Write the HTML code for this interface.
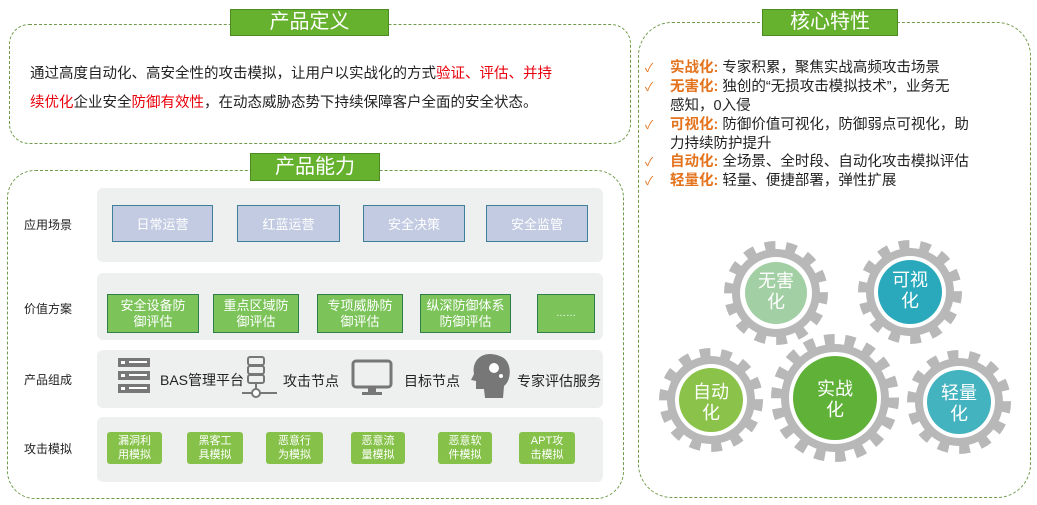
<!DOCTYPE html>
<html><head><meta charset="utf-8"><style>
body{margin:0;width:1037px;height:505px;background:#fff;position:relative;overflow:hidden;font-family:"Liberation Sans","Noto Sans CJK SC",sans-serif;color:#222}
.a{position:absolute}
.dash{position:absolute;border:1px dashed #6f9a4a;border-radius:28px}
.title{position:absolute;background:#66b22f;color:#fff;font-size:20px;text-align:center;border:1px solid #4c8a22;box-sizing:border-box}
.row{position:absolute;left:97px;width:506px;background:#eef0f0;border-radius:6px}
.lab{position:absolute;left:24px;font-size:12px;color:#222}
.b1{position:absolute;top:205px;height:37px;background:#c3cbe2;border:1px solid #3f7f9a;color:#fff;font-size:13px;display:flex;align-items:center;justify-content:center;box-sizing:border-box}
.b2{position:absolute;top:294px;height:39px;background:#7cc45a;border:1px solid #2f7d48;color:#fff;font-size:13px;line-height:16px;text-align:center;display:flex;align-items:center;justify-content:center;box-sizing:border-box}
.b4{position:absolute;top:432px;height:32px;background:#86c24a;border-radius:3px;color:#fff;font-size:11px;line-height:14px;text-align:center;display:flex;align-items:center;justify-content:center}
.red{color:#e8000b}
.li{position:absolute;left:645px;font-size:14.5px;line-height:19px;width:340px}
.li b{color:#e4731d;font-weight:bold}
.ck{color:#e4731d;display:inline-block;width:25px;font-size:12px}
</style></head><body>
<div class="dash" style="left:9px;top:24px;width:620px;height:118px;border-radius:20px"></div>
<div class="title" style="left:230px;top:9px;width:159px;height:27px;line-height:25px">产品定义</div>
<div class="a" style="left:30px;top:60px;font-size:14.5px;line-height:29px;width:600px">通过高度自动化、高安全性的攻击模拟，让用户以实战化的方式<span class="red">验证、评估、并持</span><br><span class="red">续优化</span>企业安全<span class="red">防御有效性</span>，在动态威胁态势下持续保障客户全面的安全状态。</div>

<div class="dash" style="left:7px;top:170px;width:615px;height:327px"></div>
<div class="title" style="left:250px;top:153px;width:130px;height:28px;line-height:26px">产品能力</div>

<div class="row" style="top:188px;height:74px"></div>
<div class="lab" style="top:216px">应用场景</div>
<div class="b1" style="left:112px;width:101px">日常运营</div>
<div class="b1" style="left:237px;width:103px">红蓝运营</div>
<div class="b1" style="left:363px;width:102px">安全决策</div>
<div class="b1" style="left:486px;width:102px">安全监管</div>

<div class="row" style="top:273px;height:67px"></div>
<div class="lab" style="top:300px">价值方案</div>
<div class="b2" style="left:107px;width:92px">安全设备防<br>御评估</div>
<div class="b2" style="left:213px;width:86px">重点区域防<br>御评估</div>
<div class="b2" style="left:317px;width:86px">专项威胁防<br>御评估</div>
<div class="b2" style="left:420px;width:91px">纵深防御体系<br>防御评估</div>
<div class="b2" style="left:537px;width:58px;font-size:10px">……</div>

<div class="row" style="top:350px;height:58px"></div>
<div class="lab" style="top:371px">产品组成</div>
<svg class="a" style="left:115px;top:355px" width="170" height="46">
<g fill="#777"><rect x="3" y="3" width="32" height="9"/><rect x="3" y="16" width="32" height="9"/><rect x="3" y="29" width="32" height="9"/></g>
<g fill="#fff"><rect x="6" y="6" width="4" height="3"/><rect x="14" y="6" width="18" height="2"/><rect x="6" y="19" width="4" height="3"/><rect x="14" y="19" width="18" height="2"/><rect x="6" y="32" width="4" height="3"/><rect x="14" y="32" width="18" height="2"/></g>
<g fill="none" stroke="#777" stroke-width="2"><rect x="133" y="2" width="16" height="8" rx="2"/><rect x="133" y="11" width="16" height="8" rx="2"/><rect x="133" y="20" width="16" height="8" rx="2"/><line x1="141" y1="28" x2="141" y2="34"/><line x1="127" y1="38" x2="162" y2="38"/><circle cx="141" cy="38" r="4" fill="#fff"/></g>
</svg>
<div class="a" style="left:160px;top:370px;font-size:14px">BAS管理平台</div>
<div class="a" style="left:283px;top:371px;font-size:14px">攻击节点</div>
<svg class="a" style="left:350px;top:358px" width="45" height="40"><rect x="3" y="3" width="38" height="26" rx="3" fill="none" stroke="#777" stroke-width="3"/><rect x="18" y="29" width="8" height="6" fill="#777"/><rect x="12" y="34" width="20" height="3" fill="#777"/></svg>
<div class="a" style="left:404px;top:371px;font-size:14px">目标节点</div>
<svg class="a" style="left:470px;top:352px" width="45" height="48"><path d="M20 2 C8 2 2 12 4 22 L1 28 L6 29 L6 37 L14 37 L15 46 L33 46 L34 34 C42 28 42 10 32 5 C28 3 24 2 20 2Z" fill="#777"/><circle cx="24" cy="16" r="5" fill="#fff"/><circle cx="31" cy="24" r="2" fill="#fff"/></svg>
<div class="a" style="left:517px;top:371px;font-size:14px">专家评估服务</div>

<div class="row" style="top:417px;height:65px"></div>
<div class="lab" style="top:440px">攻击模拟</div>
<div class="b4" style="left:107px;width:55px">漏洞利<br>用模拟</div>
<div class="b4" style="left:187px;width:56px">黑客工<br>具模拟</div>
<div class="b4" style="left:266px;width:57px">恶意行<br>为模拟</div>
<div class="b4" style="left:351px;width:54px">恶意流<br>量模拟</div>
<div class="b4" style="left:438px;width:54px">恶意软<br>件模拟</div>
<div class="b4" style="left:519px;width:56px">APT攻<br>击模拟</div>

<div class="dash" style="left:638px;top:22px;width:391px;height:474px;border-radius:34px"></div>
<div class="title" style="left:762px;top:9px;width:136px;height:27px;line-height:25px">核心特性</div>
<div class="li" style="top:59px"><span class="ck">✓</span><b>实战化:</b> 专家积累，聚焦实战高频攻击场景</div>
<div class="li" style="top:78px"><span class="ck">✓</span><b>无害化:</b> 独创的“无损攻击模拟技术”，业务无<br><span class="ck"></span>感知，0入侵</div>
<div class="li" style="top:116px"><span class="ck">✓</span><b>可视化:</b> 防御价值可视化，防御弱点可视化，助<br><span class="ck"></span>力持续防护提升</div>
<div class="li" style="top:153px"><span class="ck">✓</span><b>自动化:</b> 全场景、全时段、自动化攻击模拟评估</div>
<div class="li" style="top:172px"><span class="ck">✓</span><b>轻量化:</b> 轻量、便捷部署，弹性扩展</div>

<svg class="a" style="left:0;top:0" width="1037" height="505" font-family="Liberation Sans,Noto Sans CJK SC,sans-serif">
<defs>
<g id="g"><circle r="44" fill="#b8b8b8"/><circle r="47" fill="none" stroke="#b8b8b8" stroke-width="10" stroke-dasharray="10.5 10.5"/><circle r="36" fill="#fff"/></g>
<g id="G"><circle r="54" fill="#b8b8b8"/><circle r="58" fill="none" stroke="#b8b8b8" stroke-width="12" stroke-dasharray="10.1 10.1"/><circle r="46" fill="#fff"/></g>
</defs>
<use href="#g" x="776" y="293"/><circle cx="776" cy="293" r="31" fill="#a3cfa4"/>
<use href="#g" x="910" y="292"/><circle cx="910" cy="292" r="32" fill="#2aa9bc"/>
<use href="#g" x="711" y="400"/><circle cx="711" cy="400" r="32" fill="#8bc34a"/>
<use href="#g" x="959" y="402"/><circle cx="959" cy="402" r="32" fill="#43b3bf"/>
<use href="#G" x="835" y="398"/><circle cx="835" cy="398" r="42" fill="#5fb138"/>
<g fill="#fff" font-size="18" text-anchor="middle">
<text x="776" y="287">无害</text><text x="776" y="308">化</text>
<text x="910" y="286">可视</text><text x="910" y="307">化</text>
<text x="711" y="398">自动</text><text x="711" y="419">化</text>
<text x="835" y="395">实战</text><text x="835" y="416">化</text>
<text x="959" y="399">轻量</text><text x="959" y="420">化</text>
</g>
</svg>
</body></html>
